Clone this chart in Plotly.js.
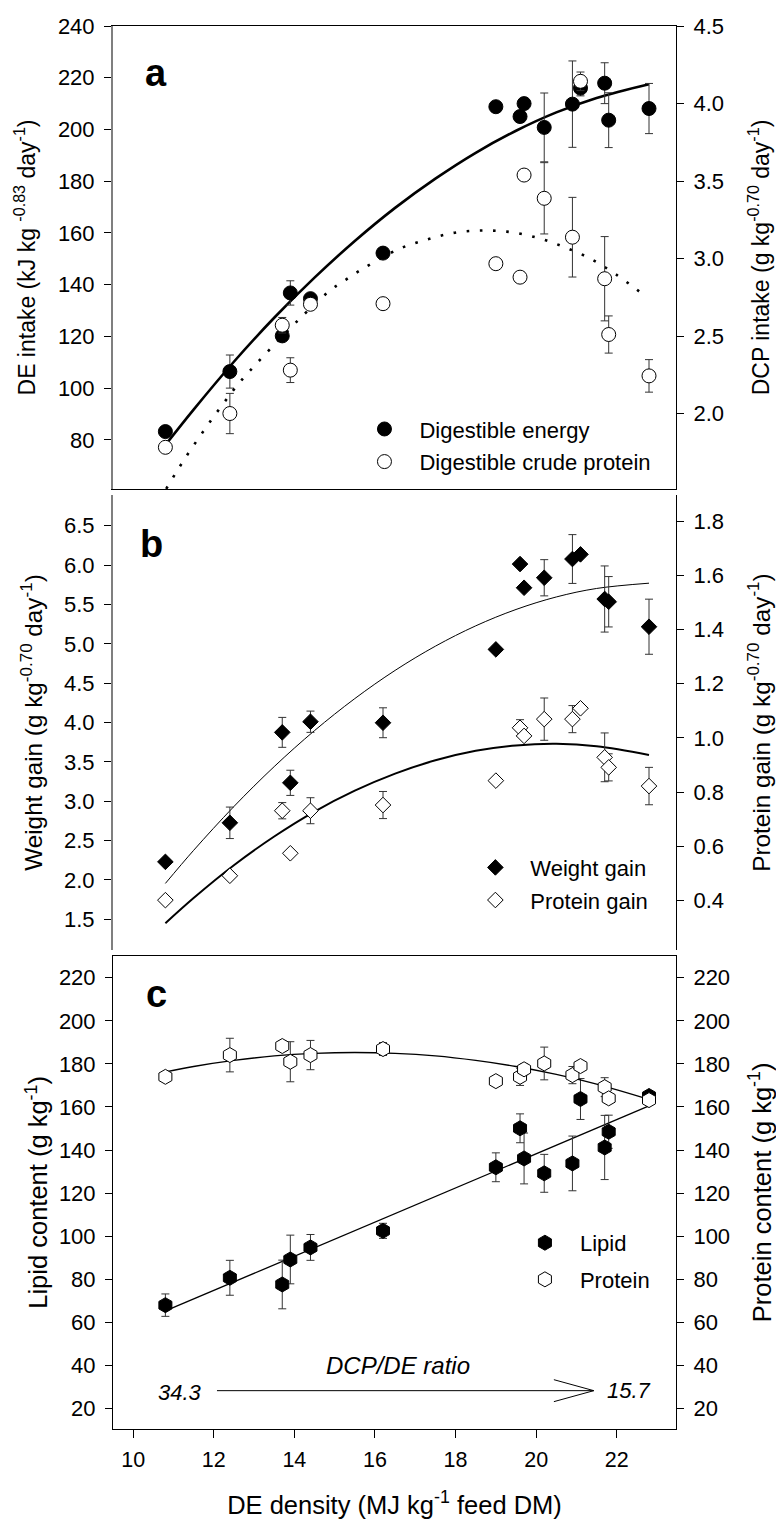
<!DOCTYPE html>
<html><head><meta charset="utf-8">
<script src="https://cdn.plot.ly/plotly-3.0.1.min.js"></script>
<style>html,body{margin:0;padding:0;background:#fff;} #chart{width:776px;height:1519px;}</style>
</head><body><div id="chart"></div>
<script>
// ---- data ----
const DE_DENSITY = [10.8, 12.4, 13.7, 13.9, 14.4, 16.2, 19.0, 19.6, 19.7, 20.2, 20.9, 21.1, 21.7, 21.8, 22.8];

// panel a
const DE_INTAKE      = [83.2, 106.4, 120.2, 136.8, 134.6, 152.2, 208.8, 205.0, 210.0, 200.8, 209.8, 216.0, 217.9, 203.6, 208.1];
const DE_INTAKE_ERR  = [0, 6.4, 0, 4.7, 0, 1.5, 1.5, 0, 0, 13.3, 16.7, 3, 7.9, 10.6, 9.7];
const DCP_INTAKE     = [1.782, 2.0, 2.57, 2.28, 2.705, 2.709, 2.967, 2.88, 3.539, 3.389, 3.138, 4.144, 2.87, 2.51, 2.243];
const DCP_INTAKE_ERR = [0, 0.13, 0.05, 0.08, 0, 0, 0, 0, 0, 0.23, 0.257, 0.06, 0.272, 0.12, 0.105];

// panel b
const WEIGHT_GAIN      = [2.23, 2.726, 3.875, 3.234, 4.01, 3.997, 4.929, 6.013, 5.712, 5.839, 6.077, 6.136, 5.569, 5.534, 5.217];
const WEIGHT_GAIN_ERR  = [0, 0.2, 0.19, 0.16, 0.135, 0.19, 0, 0, 0, 0.23, 0.31, 0, 0.42, 0.32, 0.35];
const PROTEIN_GAIN     = [0.401, 0.491, 0.731, 0.574, 0.731, 0.752, 0.842, 1.037, 1.007, 1.069, 1.069, 1.109, 0.928, 0.891, 0.822];
const PROTEIN_GAIN_ERR = [0, 0, 0.03, 0, 0.048, 0.05, 0, 0.03, 0, 0.078, 0.05, 0, 0.09, 0.05, 0.069];

// panel c
const LIPID_CONTENT       = [68.0, 80.7, 77.6, 89.2, 94.8, 102.5, 132.0, 150.1, 136.1, 129.2, 133.8, 163.7, 141.2, 148.5, 165.1];
const LIPID_CONTENT_ERR   = [5.2, 8.1, 11.3, 11.3, 6, 3.5, 6.7, 6.7, 11.8, 8.8, 12.7, 9.5, 14.9, 7.7, 0];
const PROTEIN_CONTENT     = [174.0, 184.1, 188.3, 181.0, 184.1, 186.9, 172.0, 174.0, 177.5, 180.2, 174.8, 179.0, 169.2, 164.0, 163.2];
const PROTEIN_CONTENT_ERR = [0, 7.8, 2.5, 9.3, 6.8, 3, 0, 4, 2.5, 7.6, 4, 0, 4.4, 0, 0];

// fitted curves
const FIT_X      = [10.8, 11.5, 12.5, 13.5, 14.5, 15.5, 16.5, 17.5, 18.5, 19.5, 20.5, 21.5, 22.8];
const DE_FIT     = [78.0, 91.7, 110.2, 127.2, 142.7, 156.9, 169.7, 181.0, 191.0, 199.5, 206.6, 212.2, 217.5];
const WG_FIT     = [1.956, 2.376, 2.933, 3.44, 3.897, 4.304, 4.662, 4.970, 5.228, 5.436, 5.595, 5.703, 5.770];
const PG_FIT     = [0.316, 0.409, 0.530, 0.636, 0.728, 0.805, 0.868, 0.917, 0.952, 0.972, 0.978, 0.969, 0.937];
const PC_FIT     = [176.3, 178.8, 181.6, 183.7, 184.9, 185.3, 184.9, 183.7, 181.6, 178.8, 175.1, 170.6, 163.5];
const DCP_FIT_X  = [10.82, 11.23, 11.68, 12.16, 12.69, 14.26, 14.89, 15.25, 15.6, 15.93, 16.6, 17.26, 17.95, 18.61, 19.27, 19.98, 20.64, 21.32, 21.98, 22.66];
const DCP_FIT    = [1.514, 1.688, 1.862, 2.037, 2.215, 2.645, 2.795, 2.859, 2.919, 2.97, 3.063, 3.12, 3.166, 3.181, 3.174, 3.138, 3.08, 3.003, 2.898, 2.767];
const LIPID_FIT_X = [10.8, 22.8];
const LIPID_FIT   = [65.3, 160.5];

// ratio annotation
const RATIO_START = '34.3';
const RATIO_END = '15.7';

// ---- drawing ----
const FONT = 'Liberation Sans, Arial, Helvetica, sans-serif';
const BLACK = '#000';
function err(arr) { return {type: 'data', array: arr, visible: true, color: '#333', thickness: 1, width: 4}; }
function tf(s) { return {family: FONT, size: s, color: BLACK}; }

const traces = [
  // panel a
  {x: FIT_X, y: DE_FIT, xaxis: 'x2', yaxis: 'y', mode: 'lines', line: {color: BLACK, width: 2.6, shape: 'spline'}, showlegend: false, hoverinfo: 'skip'},
  {x: DCP_FIT_X, y: DCP_FIT, xaxis: 'x2', yaxis: 'y2', mode: 'lines', line: {color: BLACK, width: 2.6, dash: '2.6px,10.6px', shape: 'spline'}, showlegend: false, hoverinfo: 'skip'},
  {x: DE_DENSITY, y: DE_INTAKE, error_y: err(DE_INTAKE_ERR), xaxis: 'x2', yaxis: 'y', mode: 'markers', name: 'Digestible energy',
   marker: {symbol: 'circle', size: 14, color: BLACK, line: {color: BLACK, width: 1}}, legend: 'legend', legendgroup: 'a1'},
  {x: DE_DENSITY, y: DCP_INTAKE, error_y: err(DCP_INTAKE_ERR), xaxis: 'x2', yaxis: 'y2', mode: 'markers', name: 'Digestible crude protein',
   marker: {symbol: 'circle', size: 14, color: '#fff', line: {color: BLACK, width: 1}}, legend: 'legend', legendgroup: 'a2'},
  // panel b
  {x: FIT_X, y: WG_FIT, xaxis: 'x3', yaxis: 'y3', mode: 'lines', line: {color: BLACK, width: 1, shape: 'spline'}, showlegend: false, hoverinfo: 'skip'},
  {x: FIT_X, y: PG_FIT, xaxis: 'x3', yaxis: 'y4', mode: 'lines', line: {color: BLACK, width: 2, shape: 'spline'}, showlegend: false, hoverinfo: 'skip'},
  {x: DE_DENSITY, y: WEIGHT_GAIN, error_y: err(WEIGHT_GAIN_ERR), xaxis: 'x3', yaxis: 'y3', mode: 'markers', name: 'Weight gain',
   marker: {symbol: 'diamond', size: 12, color: BLACK, line: {color: BLACK, width: 1}}, legend: 'legend2', legendgroup: 'b1'},
  {x: DE_DENSITY, y: PROTEIN_GAIN, error_y: err(PROTEIN_GAIN_ERR), xaxis: 'x3', yaxis: 'y4', mode: 'markers', name: 'Protein gain',
   marker: {symbol: 'diamond', size: 12, color: '#fff', line: {color: BLACK, width: 1}}, legend: 'legend2', legendgroup: 'b2'},
  // panel c
  {x: LIPID_FIT_X, y: LIPID_FIT, xaxis: 'x', yaxis: 'y5', mode: 'lines', line: {color: BLACK, width: 1.3}, showlegend: false, hoverinfo: 'skip'},
  {x: FIT_X, y: PC_FIT, xaxis: 'x', yaxis: 'y6', mode: 'lines', line: {color: BLACK, width: 1.3, shape: 'spline'}, showlegend: false, hoverinfo: 'skip'},
  {x: DE_DENSITY, y: LIPID_CONTENT, error_y: err(LIPID_CONTENT_ERR), xaxis: 'x', yaxis: 'y5', mode: 'markers', name: 'Lipid',
   marker: {symbol: 'hexagon', size: 15, color: BLACK, line: {color: BLACK, width: 1}}, legend: 'legend3', legendgroup: 'c1'},
  {x: DE_DENSITY, y: PROTEIN_CONTENT, error_y: err(PROTEIN_CONTENT_ERR), xaxis: 'x', yaxis: 'y6', mode: 'markers', name: 'Protein',
   marker: {symbol: 'hexagon', size: 15, color: '#fff', line: {color: BLACK, width: 1}}, legend: 'legend3', legendgroup: 'c2'}
];

function yax(extra) {
  return Object.assign({showgrid: false, zeroline: false, ticks: 'outside', ticklen: 7, tickwidth: 1, tickcolor: BLACK,
    showline: true, linewidth: 1, linecolor: BLACK, tickfont: tf(22), ticklabelstandoff: 5}, extra);
}
const XR = [9.5, 23.47];
const domA = [0.67, 1.0], domB = [0.3414, 0.6657], domC = [0, 0.3373];
const legendBase = {font: tf(22), bgcolor: 'rgba(0,0,0,0)', borderwidth: 0,
  xanchor: 'left', yanchor: 'top', itemwidth: 60, traceorder: 'grouped', tracegroupgap: 1, itemclick: false};

const layout = {
  width: 776, height: 1519, margin: {l: 113, r: 100, t: 26, b: 90},
  paper_bgcolor: '#fff', plot_bgcolor: 'rgba(0,0,0,0)', font: {family: FONT, color: BLACK}, showlegend: true,
  xaxis: {domain: [0, 1], anchor: 'y5', range: XR, dtick: 2, tick0: 10, ticks: 'outside', ticklen: 8, tickwidth: 1,
          tickcolor: BLACK, showline: true, mirror: true, linewidth: 1, linecolor: BLACK, showgrid: false, zeroline: false,
          tickfont: tf(21.5), ticklabelstandoff: 3,
          title: {text: 'DE density (MJ kg<sup>-1</sup> feed DM)', font: tf(25.5), standoff: 25}},
  xaxis2: {domain: [0, 1], anchor: 'y', range: XR, showline: true, mirror: true, linewidth: 1, linecolor: BLACK,
           ticks: '', showticklabels: false, showgrid: false, zeroline: false},
  xaxis3: {domain: [0, 1], anchor: 'y3', range: XR, visible: false},

  yaxis: yax({domain: domA, anchor: 'x2', range: [61, 240.01], dtick: 20, tick0: 0, linecolor: '#7f7f7f', linewidth: 2,
    title: {text: 'DE intake (kJ kg <sup>-0.83</sup> day<sup>-1</sup>)', font: tf(23), standoff: 16}}),
  yaxis2: yax({overlaying: 'y', side: 'right', anchor: 'x2', range: [1.513, 4.501], dtick: 0.5, tick0: 0, tickformat: '.1f',
    title: {text: 'DCP intake (g kg<sup>-0.70</sup> day<sup>-1</sup>)', font: tf(23), standoff: 29}}),

  yaxis3: yax({domain: domB, anchor: 'x3', range: [1.11, 6.89], dtick: 0.5, tick0: 0, tickformat: '.1f', linecolor: '#7f7f7f', linewidth: 2,
    title: {text: 'Weight gain (g kg<sup>-0.70</sup> day<sup>-1</sup>)', font: tf(24.3), standoff: 14}}),
  yaxis4: yax({overlaying: 'y3', side: 'right', anchor: 'x3', range: [0.217, 1.896], dtick: 0.2, tick0: 0, tickformat: '.1f',
    title: {text: 'Protein gain (g kg<sup>-0.70</sup> day<sup>-1</sup>)', font: tf(24.3), standoff: 29}}),

  yaxis5: yax({domain: domC, anchor: 'x', range: [10.5, 230.2], dtick: 20, tick0: 0,
    title: {text: 'Lipid content (g kg<sup>-1</sup>)', font: tf(25.5), standoff: 3}}),
  yaxis6: yax({overlaying: 'y5', side: 'right', anchor: 'x', range: [10.5, 230.2], dtick: 20, tick0: 0,
    title: {text: 'Protein content (g kg<sup>-1</sup>)', font: tf(25.5), standoff: 24}}),

  legend:  Object.assign({}, legendBase, {x: 0.42, y: 0.7276}),
  legend2: Object.assign({}, legendBase, {x: 0.617, y: 0.4151}),
  legend3: Object.assign({}, legendBase, {x: 0.705, y: 0.1476, tracegroupgap: 5}),

  annotations: [
    {text: '<b>a</b>', xref: 'paper', yref: 'paper', x: 0.0764, y: 0.9666, xanchor: 'center', yanchor: 'middle', showarrow: false, font: tf(38)},
    {text: '<b>b</b>', xref: 'paper', yref: 'paper', x: 0.0675, y: 0.6311, xanchor: 'center', yanchor: 'middle', showarrow: false, font: tf(38)},
    {text: '<b>c</b>', xref: 'paper', yref: 'paper', x: 0.0776, y: 0.3104, xanchor: 'center', yanchor: 'middle', showarrow: false, font: tf(38)},
    {text: '<i>DCP/DE ratio</i>', xref: 'x', yref: 'y5', x: 16.57, y: 40, xanchor: 'center', yanchor: 'middle', showarrow: false, font: tf(24)},
    {text: '<i>' + RATIO_START + '</i>', xref: 'x', yref: 'y5', x: 11.15, y: 27.5, xanchor: 'center', yanchor: 'middle', showarrow: false, font: tf(22)},
    {text: '<i>' + RATIO_END + '</i>', xref: 'x', yref: 'y5', x: 22.3, y: 28.5, xanchor: 'center', yanchor: 'middle', showarrow: false, font: tf(22)}
  ],
  shapes: [
    {type: 'line', xref: 'x', yref: 'y5', x0: 12.08, x1: 21.43, y0: 28.3, y1: 28.3, line: {color: BLACK, width: 1}},
    {type: 'path', xref: 'x', yref: 'y5', path: 'M 20.44 33.4 L 21.43 28.3 L 20.44 23.2', line: {color: BLACK, width: 1}}
  ]
};

Plotly.newPlot('chart', traces, layout, {displayModeBar: false, staticPlot: true});
</script>
</body></html>
